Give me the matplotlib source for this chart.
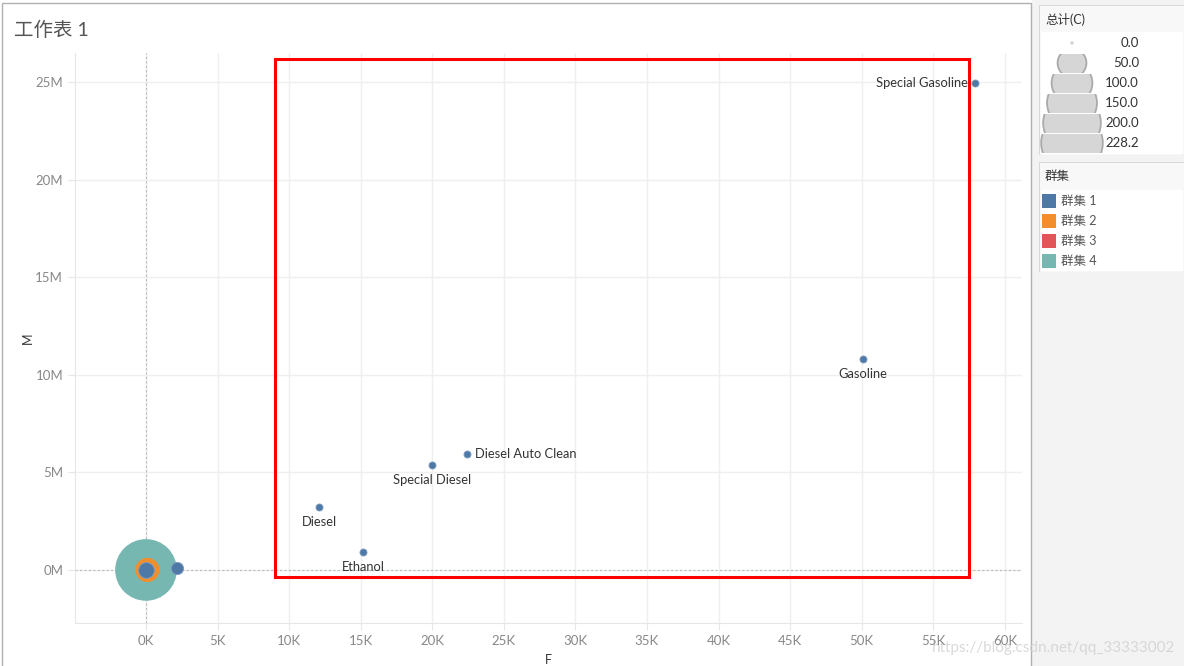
import matplotlib
matplotlib.use("Agg")
import matplotlib.pyplot as plt
from matplotlib.patches import Rectangle, Ellipse
import numpy as np

plt.rcParams['font.family'] = ['Lato', 'Noto Sans CJK SC', 'DejaVu Sans']

# ---------------- data ----------------
labels = ["", "", "", "", "Special Gasoline", "Gasoline", "Diesel Auto Clean",
          "Special Diesel", "Diesel", "Ethanol"]
F_vals = [0, 100, 0, 2200, 57900, 50100, 22400, 20000, 12100, 15150]
M_vals = [0.0, 0.0, 0.0, 0.1e6, 24.95e6, 10.83e6, 5.95e6, 5.39e6, 3.23e6, 0.92e6]
C_vals = [228.2, 35, 15, 9, 3, 3, 3, 3, 3, 3]
clusters = [4, 2, 1, 1, 1, 1, 1, 1, 1, 1]
label_pos = ["", "", "", "", "left", "below", "right", "below", "below", "below"]

cluster_names = ["群集 1", "群集 2", "群集 3", "群集 4"]
cluster_colors = ["#4e79a7", "#f28e2b", "#e15759", "#76b7b2"]
size_legend_vals = [0.0, 50.0, 100.0, 150.0, 200.0, 228.2]
x_ticks = list(range(0, 60001, 5000))
y_ticks = [0, 5e6, 10e6, 15e6, 20e6, 25e6]
highlight = (9000, -0.36e6, 57500, 26.2e6)  # red box x0, y0, x1, y1

W, H = 1184, 666
fig = plt.figure(figsize=(W / 100, H / 100), dpi=100)
fig.patch.set_facecolor("white")

def px_axes(x0, y0, x1, y1):
    return [x0 / W, 1 - y1 / H, (x1 - x0) / W, (y1 - y0) / H]

# background pieces
bg = fig.add_axes([0, 0, 1, 1])
bg.set_xlim(0, W); bg.set_ylim(H, 0); bg.axis("off")
bg.add_patch(Rectangle((1032, 0), W - 1032, H, facecolor="#f3f3f3", edgecolor="none"))
bg.add_patch(Rectangle((2, 3), 1029, 670, facecolor="white", edgecolor="#b0b0b0", lw=1))
bg.text(14, 30, "工作表 1", fontsize=14, color="#555555", va="center", ha="left")

# ---------------- main scatter ----------------
ax = fig.add_axes(px_axes(75, 53, 1022, 623))
ax.set_xlim(-4960, 61200)
ax.set_ylim(-2.72e6, 26.5e6)
for s in ["top", "right"]:
    ax.spines[s].set_visible(False)
for s in ["left", "bottom"]:
    ax.spines[s].set_color("#e6e6e6")
ax.set_xticks(x_ticks)
ax.set_xticklabels([f"{int(v/1000)}K" for v in x_ticks])
ax.set_yticks(y_ticks)
ax.set_yticklabels([f"{int(v/1e6)}M" for v in y_ticks])
ax.tick_params(colors="#e6e6e6", labelcolor="#888888", labelsize=9.5, length=5)
ax.grid(True, color="#efefef", lw=1)
ax.set_axisbelow(True)
ax.axhline(0, color="#bbbbbb", lw=0.8, ls=(0, (2, 2)), zorder=1)
ax.axvline(0, color="#bbbbbb", lw=0.8, ls=(0, (2, 2)), zorder=1)
ax.set_xlabel("F", fontsize=9, color="#333333")
ax.set_ylabel("M", fontsize=9, color="#333333")
ax.xaxis.set_label_coords((548 - 75) / 947, (623 - 660) / 570)
ax.yaxis.set_label_coords((28 - 75) / 947, 0.5)
ax.xaxis.label.set_va("center")
ax.yaxis.label.set_va("center")

order = np.argsort(C_vals)[::-1]
for i in order:
    col = cluster_colors[clusters[i] - 1]
    ax.scatter(F_vals[i], M_vals[i], s=8.63 * C_vals[i], color=col,
               edgecolor="#7f9dc0" if clusters[i] == 1 else "none",
               linewidth=0.6, zorder=3)

for i, lab in enumerate(labels):
    if not lab:
        continue
    p = label_pos[i]
    if p == "left":
        kw = dict(xytext=(-5, 0), ha="right", va="center")
    elif p == "right":
        kw = dict(xytext=(6, 0), ha="left", va="center")
    else:
        kw = dict(xytext=(0, -6.5), ha="center", va="top")
    ax.annotate(lab, (F_vals[i], M_vals[i]), textcoords="offset points",
                fontsize=9.3, color="#333333", zorder=4, **kw)

x0, y0, x1, y1 = highlight
ax.add_patch(Rectangle((x0, y0), x1 - x0, y1 - y0, fill=False,
                       edgecolor="#ff0000", lw=2.2, zorder=5, clip_on=False))

# ---------------- size legend ----------------
la = fig.add_axes(px_axes(1039, 5, 1184, 155))
la.set_xlim(1039, 1184); la.set_ylim(155, 5); la.axis("off")
la.add_patch(Rectangle((1039, 5), 145, 150, facecolor="white", edgecolor="#d8d8d8", lw=1))
la.add_patch(Rectangle((1040, 6), 144, 26, facecolor="#f8f8f8", edgecolor="none"))
la.text(1045, 19, "总计(C)", fontsize=9, color="#333333", va="center")
for k, v in enumerate(size_legend_vals):
    cy = 43 + 20 * k
    r = max(2.04 * np.sqrt(v), 1.8)
    clip = Rectangle((1039, cy - 9.5), 145, 19, transform=la.transData)
    c = Ellipse((1072, cy), 2 * r, 2 * r, facecolor="#d6d6d6",
                edgecolor="#aaaaaa" if v > 0 else "none", lw=1.3)
    la.add_patch(c)
    c.set_clip_path(clip)
    la.text(1139, cy, f"{v:.1f}", fontsize=9.5, color="#333333", ha="right", va="center")

# ---------------- color legend ----------------
lc = fig.add_axes(px_axes(1039, 162, 1184, 272))
lc.set_xlim(1039, 1184); lc.set_ylim(272, 162); lc.axis("off")
lc.add_patch(Rectangle((1039, 162), 145, 110, facecolor="white", edgecolor="#d8d8d8", lw=1))
lc.add_patch(Rectangle((1040, 163), 144, 27, facecolor="#f8f8f8", edgecolor="none"))
lc.text(1045, 176, "群集", fontsize=9, color="#333333", va="center")
for k, (nm, col) in enumerate(zip(cluster_names, cluster_colors)):
    cy = 201 + 20 * k
    lc.add_patch(Rectangle((1042, cy - 7), 14, 14, facecolor=col, edgecolor="none"))
    lc.text(1061, cy, nm, fontsize=9, color="#555555", va="center")

# watermark
bg.text(1175, 648, "https://blog.csdn.net/qq_33333002", fontsize=11,
        color="#d0d0d0", ha="right", va="center", alpha=0.8, zorder=10)

fig.savefig("out.png", dpi=100, facecolor=fig.get_facecolor())
